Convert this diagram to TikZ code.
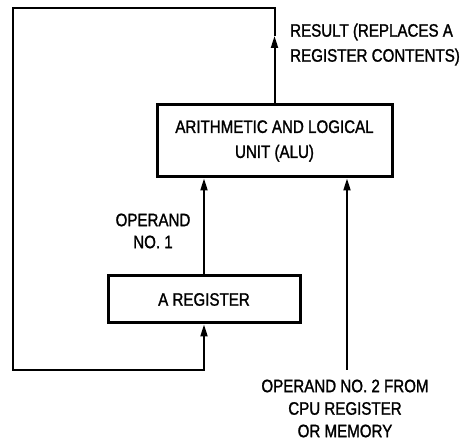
\documentclass[tikz,border=0pt]{standalone}
\usepackage{fontspec}
\setmainfont{Liberation Sans}[FakeStretch=0.84,FakeBold=1.4]
\usetikzlibrary{arrows.meta}
\begin{document}
\begin{tikzpicture}[x=1pt,y=-1pt,
  box/.style={draw,line width=3pt,inner sep=0pt,align=center,font=\fontsize{18}{25}\selectfont},
  conn/.style={line width=2pt},
  arr/.style={conn,-{Triangle[length=12pt,width=7pt]}},
  lbl/.style={inner sep=0pt,font=\fontsize{18}{22.5}\selectfont}]
\useasboundingbox (0,0) rectangle (461,443);
\node[box,minimum width=235pt,minimum height=72pt] (alu) at (274.5,141) {ARITHMETIC AND LOGICAL\\UNIT (ALU)};
\node[box,minimum width=192pt,minimum height=47pt] (areg) at (204,299.5) {A REGISTER};
\coordinate (mid) at (274.5,36);
\coordinate (tr) at (274.5,8);
\coordinate (tl) at (13,8);
\coordinate (bl) at (13,370);
\coordinate (bm) at (204,370);
\coordinate (op2) at (347,370);
\draw[arr] (alu.north) -- (mid);
\draw[conn,line join=miter] (mid) -- (tr) -- (tl) -- (bl) -- (bm) -- ([yshift=-12pt]bm |- areg.south);
\draw[arr] (bm) -- (areg.south);
\draw[arr] (areg.north) -- (areg.north |- alu.south);
\draw[arr] (op2) -- (op2 |- alu.south);
\node[lbl,anchor=west,align=left,font=\fontsize{18}{25}\selectfont] (res) at (290,44.5) {RESULT (REPLACES A\\REGISTER CONTENTS)};
\node[lbl,align=center,font=\fontsize{18}{22}\selectfont] (op1t) at (153,231) {OPERAND\\NO. 1};
\node[lbl,align=center] (op2t) at (345,408.5) {OPERAND NO. 2 FROM\\CPU REGISTER\\OR MEMORY};
\end{tikzpicture}
\end{document}
